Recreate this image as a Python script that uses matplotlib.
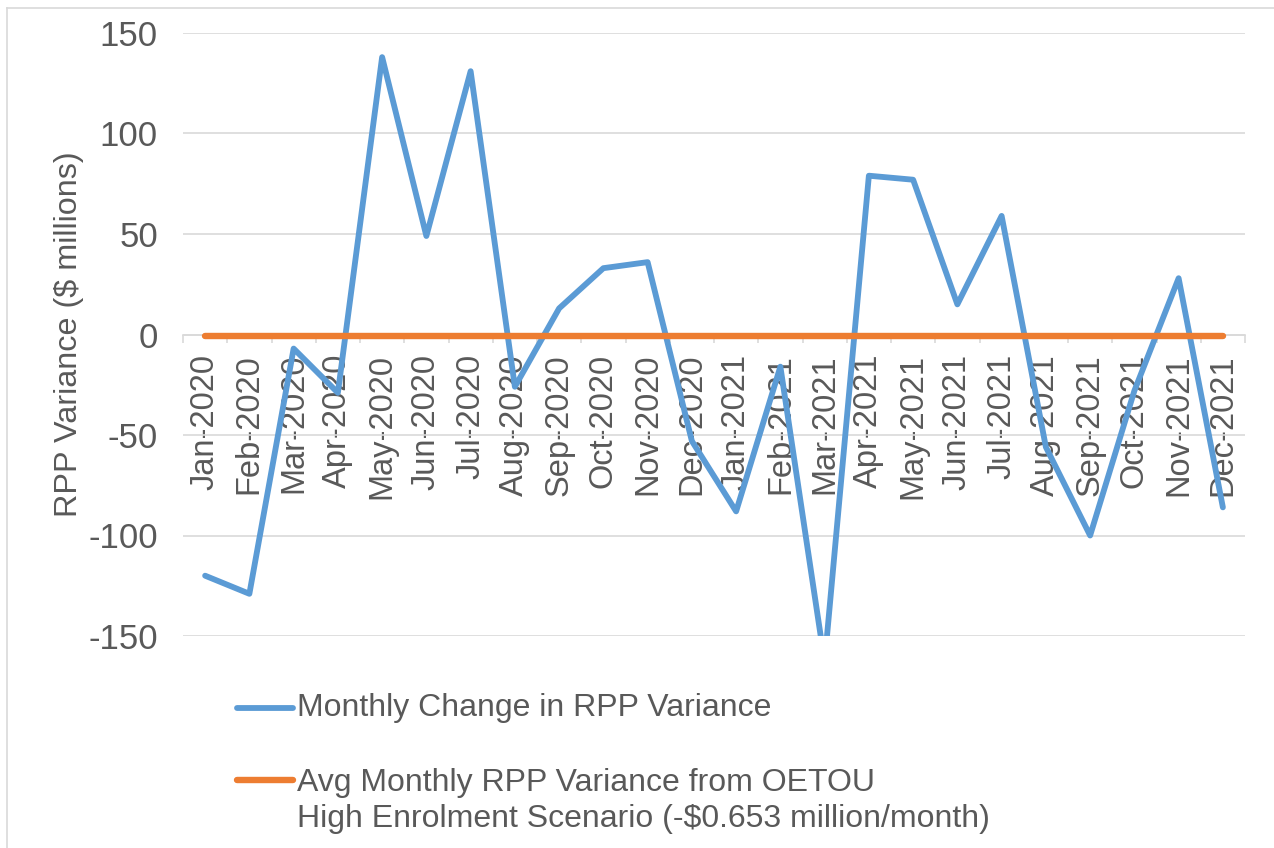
import matplotlib
matplotlib.use("Agg")
import matplotlib.pyplot as plt
from matplotlib.lines import Line2D

plt.rcParams['font.family'] = ['Liberation Sans', 'DejaVu Sans']
plt.rcParams['axes.unicode_minus'] = False

# categories + series
months = ['Jan-2020', 'Feb-2020', 'Mar-2020', 'Apr-2020', 'May-2020', 'Jun-2020',
          'Jul-2020', 'Aug-2020', 'Sep-2020', 'Oct-2020', 'Nov-2020', 'Dec-2020',
          'Jan-2021', 'Feb-2021', 'Mar-2021', 'Apr-2021', 'May-2021', 'Jun-2021',
          'Jul-2021', 'Aug-2021', 'Sep-2021', 'Oct-2021', 'Nov-2021', 'Dec-2021']
monthly_change = [-120, -129, -7, -29, 138, 49, 131, -26, 13, 33, 36, -53,
                  -88, -16, -163, 79, 77, 15, 59, -56, -100, -28, 28, -86]
avg_monthly = -0.653
avg_line = [avg_monthly] * len(months)

label_change = 'Monthly Change in RPP Variance'
label_avg = ('Avg Monthly RPP Variance from OETOU\n'
             'High Enrolment Scenario (-\\$0.653 million/month)')

BLUE = '#5B9BD5'
ORANGE = '#ED7D31'
GRID = '#D9D9D9'
TEXT = '#595959'

W, H = 1274, 848
fig = plt.figure(figsize=(W / 100, H / 100), dpi=100)
ax = fig.add_axes([183 / W, 1 - 636 / H, (1245 - 183) / W, (636 - 33) / H])

x = list(range(len(months)))
ax.plot(x, monthly_change, color=BLUE, lw=4.2, solid_joinstyle='round',
        solid_capstyle='round', zorder=3)
ax.plot(x, avg_line, color=ORANGE, lw=4.6, solid_capstyle='round', zorder=4)

ax.set_xlim(-0.5, len(months) - 0.5)
ax.set_ylim(-150, 150)
ax.set_yticks([-150, -100, -50, 0, 50, 100, 150])
ax.yaxis.grid(True, color=GRID, lw=1.2)
ax.set_axisbelow(True)

for s in ['left', 'right', 'top']:
    ax.spines[s].set_visible(False)
ax.spines['bottom'].set_position(('data', 0))
ax.spines['bottom'].set_color(GRID)
ax.spines['bottom'].set_linewidth(1.2)

ax.set_xticks(x)
ax.set_xticklabels(months, rotation=90, va='top', ha='center')
ax.set_xticks([i - 0.5 for i in range(len(months) + 1)], minor=True)
ax.tick_params(axis='x', which='major', length=0, pad=14, labelsize=23.5, labelcolor=TEXT)
ax.tick_params(axis='x', which='minor', length=6, width=1.2, color=GRID, direction='out')
ax.tick_params(axis='y', length=0, pad=18, labelsize=25, labelcolor=TEXT)

ax.set_ylabel('RPP Variance (\\$ millions)', fontsize=23.3, color=TEXT)
ax.yaxis.set_label_coords(-(183 - 84) / (1245 - 183), 0.5)

# legend drawn by hand below the plot, as in the source chart
def fy(py):
    return 1 - py / H

FS_LEG = 23.0
fig.add_artist(Line2D([237 / W, 293 / W], [fy(708), fy(708)], color=BLUE, lw=4.2,
                      solid_capstyle='round'))
fig.text(297 / W, fy(708), label_change, fontsize=FS_LEG, color=TEXT, va='center')
fig.add_artist(Line2D([237 / W, 293 / W], [fy(780), fy(780)], color=ORANGE, lw=4.6,
                      solid_capstyle='round'))
fig.text(297 / W, fy(801), label_avg, fontsize=FS_LEG, color=TEXT, va='center',
         linespacing=1.27)

# chart-area border (only left and top edges are inside the crop)
fig.add_artist(Line2D([7 / W, 7 / W], [0, fy(8)], color=GRID, lw=1.2))
fig.add_artist(Line2D([7 / W, 1], [fy(8), fy(8)], color=GRID, lw=1.2))

fig.savefig('out.png', dpi=100)
